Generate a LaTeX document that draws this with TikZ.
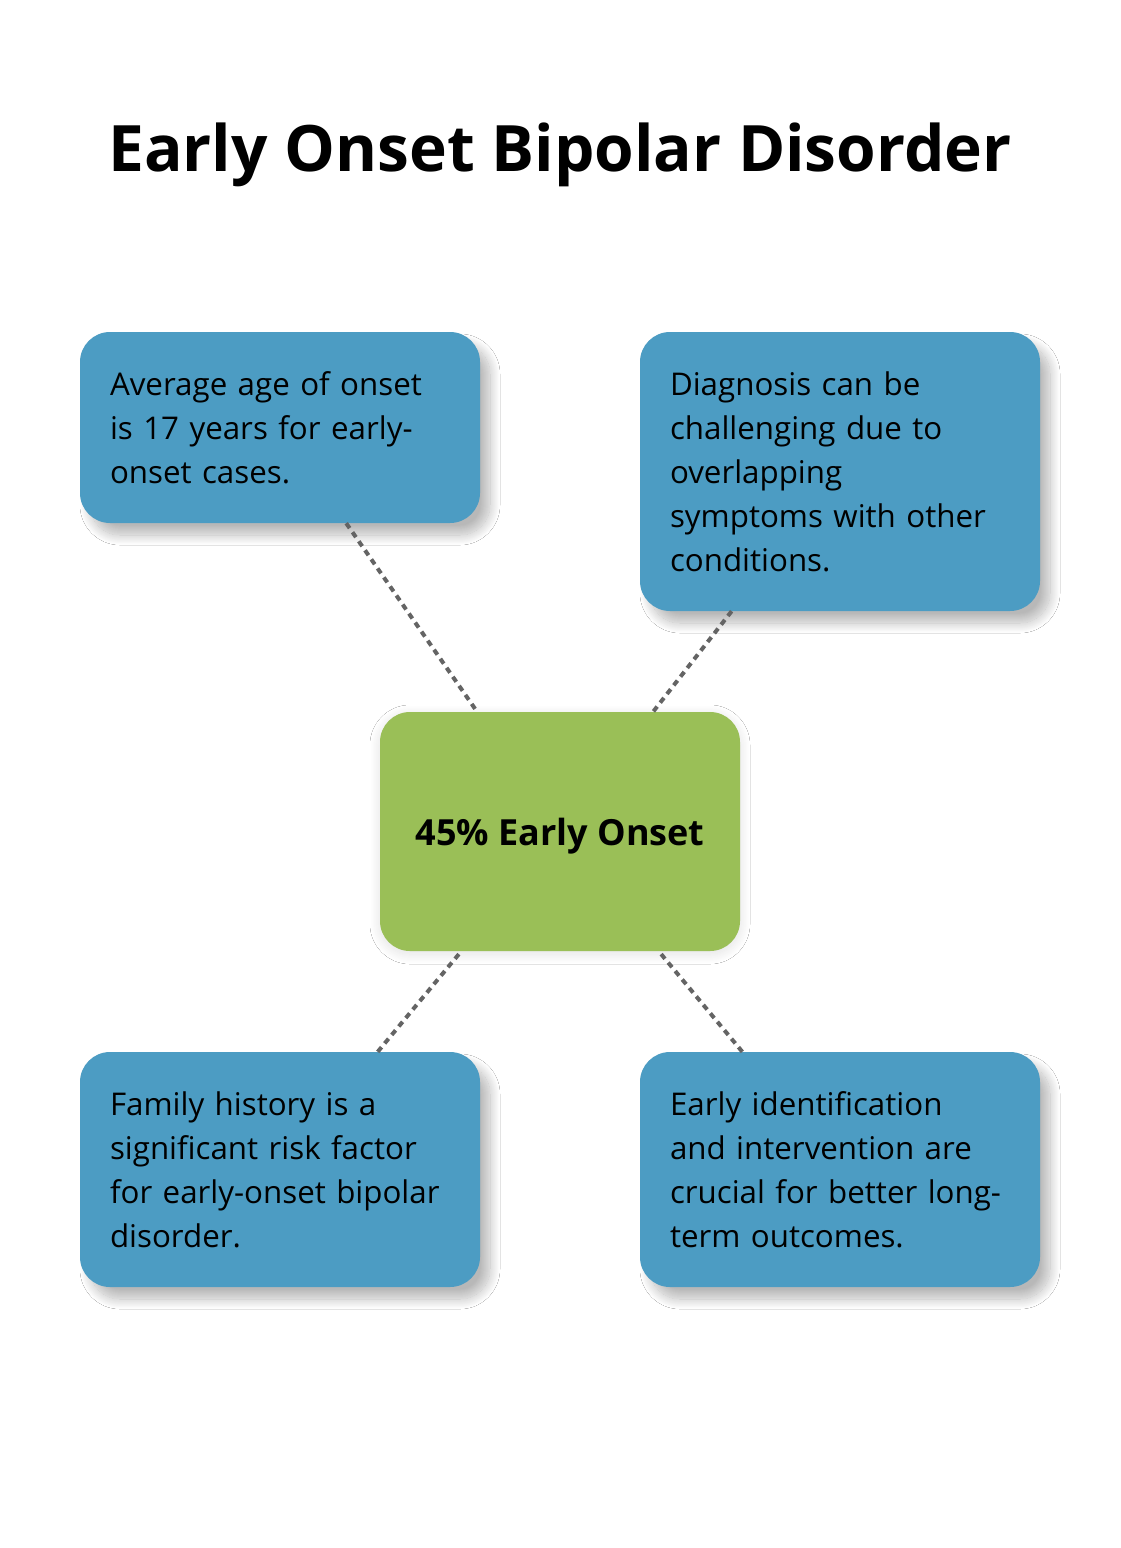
\documentclass[tikz,border=0pt]{standalone}
\usepackage{fontspec}
\setmainfont{Open Sans}
\usepackage{tikz}
\usetikzlibrary{shadows.blur}
\usetikzlibrary{positioning}

\definecolor{factblue}{RGB}{76,156,195}
\definecolor{mainGreen}{RGB}{154,191,87}
\definecolor{linkgray}{RGB}{100,100,100}

\tikzset{
	fact/.style={rectangle, rounded corners=30pt, fill=factblue, text=black,
		minimum width=400pt, text width=340pt, inner xsep=30pt, inner ysep=0pt, align=left,
		font=\fontsize{31.3}{44}\selectfont,
		blur shadow={shadow xshift=10pt, shadow yshift=-12pt, shadow blur radius=10pt,
			shadow blur steps=20, shadow opacity=28}},
	hub/.style={rectangle, rounded corners=30pt, fill=mainGreen, text=black,
		minimum width=360pt, minimum height=239pt, align=center, text depth=0pt,
		font=\fontsize{36}{44}\selectfont\bfseries,
		blur shadow={shadow xshift=0pt, shadow yshift=-3pt, shadow blur radius=10pt,
			shadow blur steps=20, shadow opacity=12}},
	link/.style={draw=linkgray, line width=4pt, dash pattern=on 6pt off 5pt}
}

\begin{document}
\begin{tikzpicture}[x=1pt, y=-1pt]

	\useasboundingbox[fill=white] (0,0) rectangle (1120,1548);

	% title
	\node[anchor=base, font=\fontsize{64}{70}\selectfont\bfseries] (title) at (560,171) {Early Onset Bipolar Disorder};

	\node[hub] (c) at (560,831.5) {45\% Early Onset};

	\node[fact, minimum height=191pt] (tl) at (280,427.5) {Average age of onset\\is 17 years for early-\\onset cases.};
	\node[fact, minimum height=279pt] (tr) at (840,471.5) {Diagnosis can be\\challenging due to\\overlapping\\symptoms with other\\conditions.};
	\node[fact, minimum height=235pt] (bl) at (280,1169.5) {Family history is a\\significant risk factor\\for early-onset bipolar\\disorder.};
	\node[fact, minimum height=235pt] (br) at (840,1169.5) {Early identification\\and intervention are\\crucial for better long-\\term outcomes.};

	% dotted links
	\foreach \n in {tl,tr,bl,br}
		\draw[link] (\n) -- (c);

\end{tikzpicture}
\end{document}
